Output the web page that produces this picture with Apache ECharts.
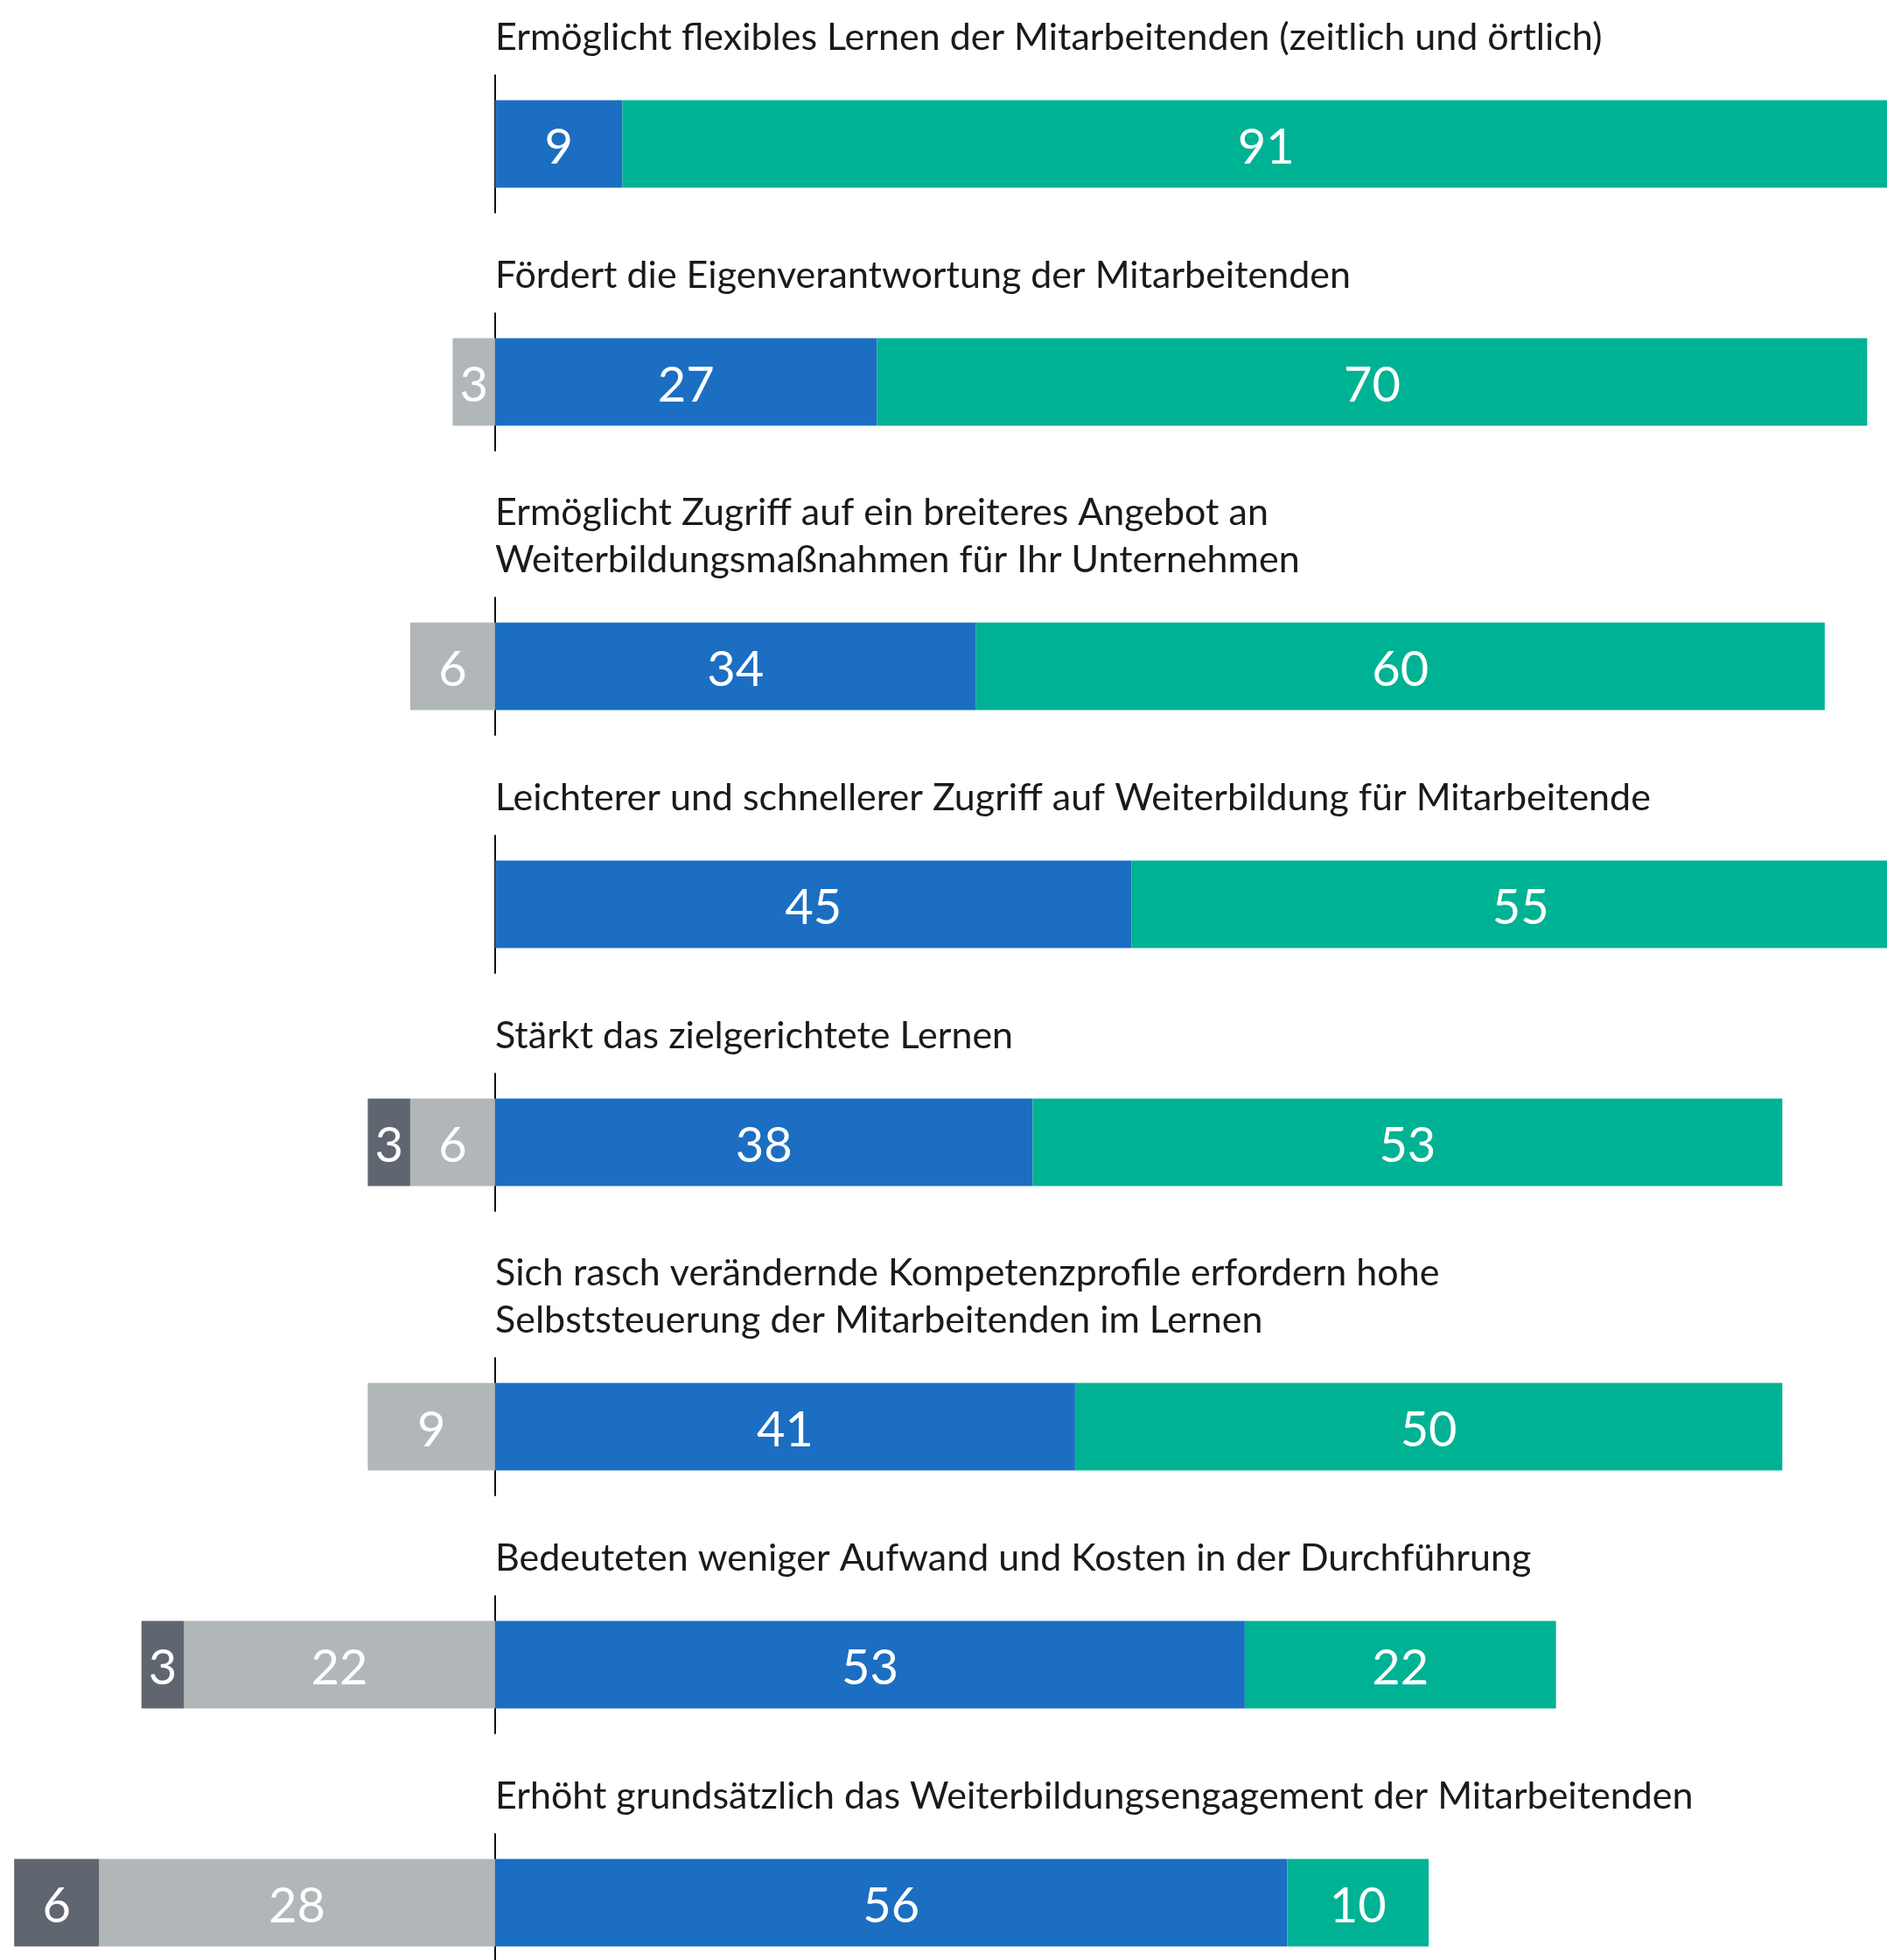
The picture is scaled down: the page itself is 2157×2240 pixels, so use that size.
<!DOCTYPE html>
<html>
<head>
<meta charset="utf-8">
<script src="https://cdn.jsdelivr.net/npm/echarts@6/dist/echarts.min.js"></script>
<style>
  html, body { margin: 0; padding: 0; background: #fff; }
  #main { width: 2157px; height: 2240px; }
</style>
</head>
<body>
<div id="main"></div>
<script>
var categories = [
  'Ermöglicht flexibles Lernen der Mitarbeitenden (zeitlich und örtlich)',
  'Fördert die Eigenverantwortung der Mitarbeitenden',
  'Ermöglicht Zugriff auf ein breiteres Angebot an\nWeiterbildungsmaßnahmen für Ihr Unternehmen',
  'Leichterer und schnellerer Zugriff auf Weiterbildung für Mitarbeitende',
  'Stärkt das zielgerichtete Lernen',
  'Sich rasch verändernde Kompetenzprofile erfordern hohe\nSelbststeuerung der Mitarbeitenden im Lernen',
  'Bedeuteten weniger Aufwand und Kosten in der Durchführung',
  'Erhöht grundsätzlich das Weiterbildungsengagement der Mitarbeitenden'
];
var darkGray  = [0, 0, 0, 0, 3, 0, 3, 6];
var lightGray = [0, 3, 6, 0, 6, 9, 22, 28];
var blue      = [9, 27, 34, 45, 38, 41, 53, 56];
var green     = [91, 70, 60, 55, 53, 50, 22, 10];

var colors = {dark: '#5f6670', light: '#b1b6b9', blue: '#1b6ec2', green: '#00b294'};
var font = 'Lato, sans-serif';

var myChart = echarts.init(document.getElementById('main'));

var grids = [], xAxes = [], yAxes = [], series = [], titles = [];
var firstCenter = 164, step = 272, lineH = 54;
var extra = 0;

function label() {
  return {
    show: true, position: 'inside', color: '#fff',
    fontFamily: font, fontSize: 56, offset: [0, 4],
    formatter: function (p) { return p.value === 0 ? '' : Math.abs(p.value); }
  };
}

for (var i = 0; i < categories.length; i++) {
  var lines = categories[i].split('\n').length;
  extra += lines - 1;
  var center = firstCenter + step * i + 53 * extra;

  titles.push({
    text: categories[i],
    left: 566, top: center - 121 - lineH / 2 - lineH * (lines - 1),
    padding: 0,
    textStyle: {fontFamily: font, fontSize: 43, fontWeight: 'normal', color: '#1a1a1a', lineHeight: lineH}
  });
  grids.push({left: 0, right: 0, top: center - 78, height: 157, outerBoundsMode: 'none', containLabel: false});
  xAxes.push({gridIndex: i, type: 'value', min: -35, max: 98.4, show: false});
  yAxes.push({
    gridIndex: i, type: 'category', data: [categories[i]],
    axisLine: {show: true, onZero: true, lineStyle: {color: '#111', width: 2}},
    axisTick: {show: false}, axisLabel: {show: false}, splitLine: {show: false}
  });

  var parts = [
    ['light', -lightGray[i]],
    ['dark', -darkGray[i]],
    ['blue', blue[i]],
    ['green', green[i]]
  ];
  parts.forEach(function (p) {
    series.push({
      type: 'bar', xAxisIndex: i, yAxisIndex: i, stack: 's' + i,
      barWidth: 100, clip: false, silent: true,
      itemStyle: {color: colors[p[0]]},
      label: label(),
      data: [p[1]]
    });
  });
}

var option = {
  animation: false,
  title: titles,
  grid: grids,
  xAxis: xAxes,
  yAxis: yAxes,
  series: series
};
myChart.setOption(option);
</script>
</body>
</html>
